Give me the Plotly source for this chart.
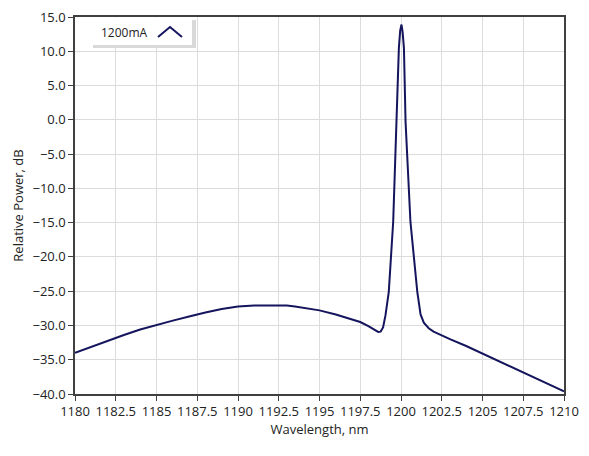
import plotly.graph_objects as go

# Data
wavelength_nm = [
    1180, 1181, 1182, 1182.5, 1183, 1184, 1185, 1186, 1187, 1187.5, 1188, 1189,
    1190, 1191, 1192, 1192.5, 1193, 1193.5, 1194, 1195, 1196, 1197, 1197.5,
    1198, 1198.3, 1198.6, 1198.75, 1198.9, 1199.05, 1199.25, 1199.52, 1199.72,
    1199.87, 1199.95, 1200.03, 1200.1, 1200.18, 1200.28, 1200.58, 1201.0,
    1201.2, 1201.4, 1201.7, 1202, 1202.5, 1203, 1204, 1205, 1206, 1207,
    1207.5, 1208, 1209, 1210,
]
power_db = [
    -34.0, -33.1, -32.2, -31.8, -31.4, -30.6, -29.9, -29.3, -28.7, -28.35, -28.1, -27.6,
    -27.25, -27.1, -27.05, -27.05, -27.1, -27.25, -27.4, -27.8, -28.4, -29.1, -29.5,
    -30.1, -30.5, -30.95, -30.9, -30.3, -28.5, -25.1, -14.9, -0.3,
    10.5, 13.0, 13.9, 12.8, 10.5, -0.3, -14.9, -25.1,
    -28.4, -29.6, -30.4, -30.9, -31.5, -32.0, -33.0, -34.1, -35.2, -36.3,
    -36.8, -37.4, -38.5, -39.6,
]
series_name = "1200mA"

x_tick_vals = [1180, 1182.5, 1185, 1187.5, 1190, 1192.5, 1195, 1197.5, 1200,
               1202.5, 1205, 1207.5, 1210]
x_tick_text = ["1180", "1182.5", "1185", "1187.5", "1190", "1192.5", "1195",
               "1197.5", "1200", "1202.5", "1205", "1207.5", "1210"]
y_tick_vals = [15, 10, 5, 0, -5, -10, -15, -20, -25, -30, -35, -40]

line_color = "#15155e"
font_family = "Open Sans, Noto Sans, sans-serif"

# Page body has an 8px margin; compensate so the plot lands where the reference's does
FIG_W, FIG_H = 581, 448
PL, PR, PT, PB = 67, 556, 9, 386  # plot-area edges in figure pixels

fig = go.Figure()
fig.add_trace(go.Scatter(
    x=wavelength_nm, y=power_db, mode="lines", name=series_name,
    line=dict(color=line_color, width=2), showlegend=False,
))

axis_common = dict(
    showgrid=True, gridcolor="#dcdcdc", gridwidth=1,
    showline=True, linecolor="#404040", linewidth=1.5, mirror=True,
    ticks="outside", ticklen=5, tickcolor="#404040", tickwidth=1,
    tickfont=dict(family=font_family, size=13, color="#222222"),
    ticklabeloverflow="allow",
    zeroline=False,
)

fig.update_layout(
    width=FIG_W, height=FIG_H,
    margin=dict(l=PL, r=FIG_W - PR, t=PT, b=FIG_H - PB, autoexpand=False),
    paper_bgcolor="white", plot_bgcolor="white",
    font=dict(family=font_family, size=13, color="#222222"),
    xaxis=dict(
        range=[1180, 1210], tickmode="array", tickvals=x_tick_vals,
        ticktext=x_tick_text,
        title=dict(text="Wavelength, nm", standoff=6,
                   font=dict(family=font_family, size=13, color="#222222")),
        **axis_common,
    ),
    yaxis=dict(
        range=[-40, 15], tickmode="array", tickvals=y_tick_vals,
        tickformat=".1f",
        title=dict(text="Relative Power, dB", standoff=6,
                   font=dict(family=font_family, size=13, color="#222222")),
        **axis_common,
    ),
    showlegend=False,
)

# Legend box (LabVIEW-style) drawn in paper coordinates (reference pixel coords)
def px_x(p):
    return (p - 75) / 489.0

def px_y(p):
    return (394 - p) / 377.0

fig.add_shape(type="rect", xref="paper", yref="paper",
              x0=px_x(93), x1=px_x(196), y0=px_y(48), y1=px_y(20),
              fillcolor="#d9d9d9", line=dict(width=0), layer="above")
fig.add_shape(type="rect", xref="paper", yref="paper",
              x0=px_x(90), x1=px_x(192), y0=px_y(45), y1=px_y(17.5),
              fillcolor="white", line=dict(width=0), layer="above")
fig.add_shape(type="path", xref="paper", yref="paper",
              path=f"M {px_x(158)} {px_y(37)} L {px_x(170)} {px_y(27)} L {px_x(182)} {px_y(37)}",
              line=dict(color=line_color, width=2), layer="above")
fig.add_annotation(xref="paper", yref="paper", x=px_x(124), y=px_y(32),
                   text=series_name, showarrow=False,
                   font=dict(family=font_family, size=12, color="#222222"),
                   xanchor="center", yanchor="middle")

fig.write_html("out.html")
